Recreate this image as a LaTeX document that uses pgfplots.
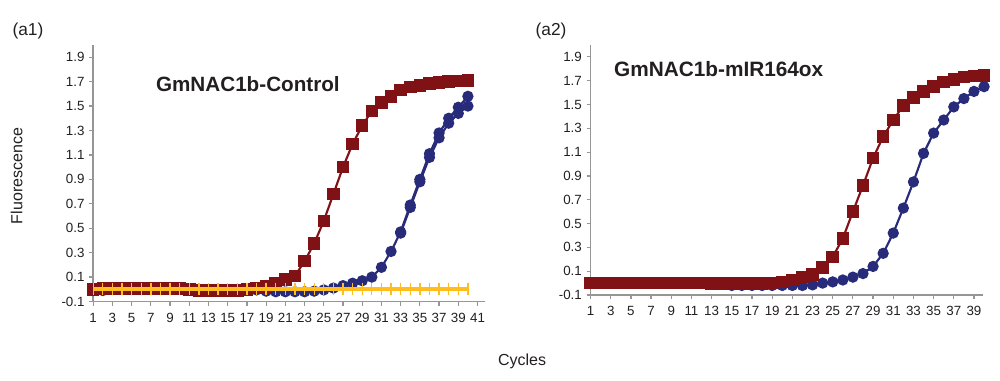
\documentclass[border=0pt]{standalone}
\usepackage{fontspec}
\setmainfont{Liberation Sans}
\usepackage{pgfplots}
\pgfplotsset{compat=1.18}
\definecolor{cred}{RGB}{128,18,22}
\definecolor{cblue}{RGB}{40,42,122}
\definecolor{cyel}{RGB}{255,190,30}
\definecolor{axgray}{RGB}{150,150,150}
\definecolor{txt}{RGB}{35,31,32}

\pgfplotsset{qpcr/.style={
  scale only axis,
  axis lines*=left,
  axis line style={axgray, line width=1.3pt},
  ymin=-0.1, ymax=2.0,
  ytick={-0.1,0.1,0.3,0.5,0.7,0.9,1.1,1.3,1.5,1.7,1.9},
  yticklabel style={/pgf/number format/fixed, /pgf/number format/precision=1, /pgf/number format/fixed zerofill},
  xticklabel style={yshift=-2pt},
  tick style={axgray, line width=0.9pt},
  tick align=outside,
  major tick length=3pt,
  ticklabel style={font=\fontsize{10}{12}\selectfont, text=txt},
  /pgf/number format/assume math mode=true,
  clip=false,
  redline/.style={cred, line width=1.6pt, mark=square*, mark size=3.9pt, mark options={solid, fill=cred, draw=cred}},
  blueline/.style={cblue, line width=1.6pt, mark=*, mark size=3.4pt, mark options={solid, fill=cblue, draw=cblue}},
  yelline/.style={cyel, line width=3.2pt, mark=|, mark size=4.5pt, mark options={solid, cyel, line width=1pt}},
}}

\begin{document}
\begin{tikzpicture}
\path (0,0) rectangle (750pt,285.75pt);

% ---------------- left panel (a1)
\begin{axis}[qpcr,
  set layers,
  at={(69.9pt,59.6pt)}, anchor=south west,
  width=294pt, height=192.4pt,
  xmin=1, xmax=41.8,
  xtick={1,3,...,41},
]
\addplot[blueline] coordinates {
(1,-0.01) (2,-0.01) (3,0) (4,0) (5,0) (6,0) (7,0) (8,0) (9,0) (10,0)
(11,0) (12,-0.005) (13,-0.005) (14,-0.005) (15,-0.005) (16,-0.005) (17,-0.005) (18,-0.005) (19,-0.015) (20,-0.02)
(21,-0.02) (22,-0.02) (23,-0.02) (24,-0.015) (25,-0.005) (26,0.01) (27,0.03) (28,0.05) (29,0.07) (30,0.10)
(31,0.18) (32,0.31) (33,0.47) (34,0.69) (35,0.90) (36,1.11) (37,1.28) (38,1.40) (39,1.49) (40,1.58)
};
\addplot[blueline] coordinates {
(33,0.46) (34,0.67) (35,0.88) (36,1.08) (37,1.24) (38,1.36) (39,1.44) (40,1.50)
};
\addplot[redline] coordinates {
(1,0) (2,0.005) (3,0.005) (4,0.005) (5,0.005) (6,0.005) (7,0.005) (8,0.005) (9,0.005) (10,0.005)
(11,0) (12,-0.01) (13,-0.01) (14,-0.01) (15,-0.01) (16,-0.01) (17,0) (18,0.01) (19,0.025) (20,0.05)
(21,0.08) (22,0.11) (23,0.23) (24,0.375) (25,0.56) (26,0.78) (27,1.0) (28,1.19) (29,1.34) (30,1.46)
(31,1.53) (32,1.58) (33,1.63) (34,1.655) (35,1.67) (36,1.685) (37,1.695) (38,1.70) (39,1.705) (40,1.71)
};
\addplot[yelline, on layer=axis foreground] coordinates {
(1,0.005) (2,0.005) (3,0.005) (4,0.005) (5,0.005) (6,0.005) (7,0.005) (8,0.005) (9,0.005) (10,0.005)
(11,0.005) (12,0.005) (13,0.005) (14,0.005) (15,0.005) (16,0.005) (17,0.005) (18,0.005) (19,0.005) (20,0.005)
(21,0.005) (22,0.005) (23,0.005) (24,0.005) (25,0.005) (26,0.005) (27,0.005) (28,0.005) (29,0.005) (30,0.005)
(31,0.005) (32,0.005) (33,0.005) (34,0.005) (35,0.005) (36,0.005) (37,0.005) (38,0.005) (39,0.005) (40,0.005)
};
\node[font=\bfseries\fontsize{15.5}{17}\selectfont, text=txt] at (axis cs:17.1,1.68) {GmNAC1b-Control};
\end{axis}

% ---------------- right panel (a2)
\begin{axis}[qpcr,
  at={(442.9pt,64.5pt)}, anchor=south west,
  width=294.4pt, height=187.5pt,
  xmin=1, xmax=39.9,
  xtick={1,3,...,39},
]
\addplot[blueline] coordinates {
(1,0) (2,0) (3,0) (4,0) (5,0) (6,0) (7,0) (8,0) (9,0) (10,0)
(11,0) (12,0) (13,0) (14,-0.01) (15,-0.02) (16,-0.02) (17,-0.02) (18,-0.02) (19,-0.02) (20,-0.02)
(21,-0.02) (22,-0.02) (23,-0.015) (24,0.0) (25,0.01) (26,0.026) (27,0.05) (28,0.08) (29,0.14) (30,0.25)
(31,0.42) (32,0.63) (33,0.85) (34,1.09) (35,1.26) (36,1.37) (37,1.48) (38,1.55) (39,1.61) (40,1.65)
};
\addplot[redline] coordinates {
(1,0) (2,0) (3,0) (4,0) (5,0) (6,0) (7,0) (8,0) (9,0) (10,0)
(11,0) (12,0) (13,-0.005) (14,-0.005) (15,-0.005) (16,-0.005) (17,-0.005) (18,-0.005) (19,0) (20,0.01)
(21,0.026) (22,0.05) (23,0.07) (24,0.13) (25,0.22) (26,0.375) (27,0.60) (28,0.82) (29,1.05) (30,1.23)
(31,1.37) (32,1.49) (33,1.56) (34,1.61) (35,1.65) (36,1.69) (37,1.71) (38,1.73) (39,1.74) (40,1.745)
};
\node[font=\bfseries\fontsize{15.6}{17}\selectfont, text=txt] at (axis cs:13.7,1.80) {GmNAC1b-mIR164ox};
\end{axis}

\node[font=\fontsize{13}{15}\selectfont, text=txt] at (21pt,262.5pt) {(a1)};
\node[font=\fontsize{13}{15}\selectfont, text=txt] at (413.3pt,262.5pt) {(a2)};
\node[font=\fontsize{12}{14}\selectfont, text=txt, rotate=90] at (12.5pt,153.75pt) {Fluorescence};
\node[font=\fontsize{12}{14}\selectfont, text=txt] at (391.5pt,15pt) {Cycles};
\end{tikzpicture}
\end{document}
